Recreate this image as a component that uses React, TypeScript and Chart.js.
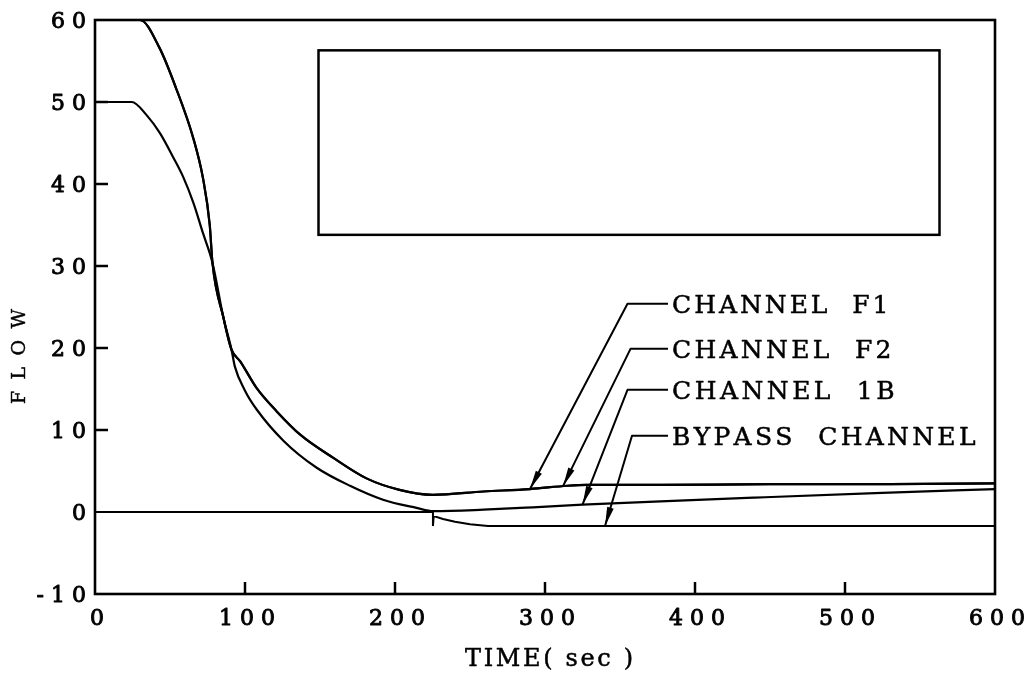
import React, { useEffect, useRef } from "react";
import { Chart, registerables } from "chart.js";

Chart.register(...registerables);

// ---- tick labels / titles ----
const X_TICK_LABELS = ["0", "100", "200", "300", "400", "500", "600"];
const Y_TICK_LABELS = ["-10", "0", "10", "20", "30", "40", "50", "60"];
const X_TITLE = "TIME( sec )";
const Y_TITLE = "FLOW";

// ---- series (time in sec, flow) ----
const F1_TIME = [0, 30, 43, 54, 65.5, 72, 76.5, 78.3, 85.5, 91, 96.7, 107.8, 121, 137, 158.9, 181, 203, 225, 259, 290, 315, 328, 377, 450, 530, 600];
const F1_FLOW = [60, 60, 56.6, 51.7, 45.6, 40.7, 35, 30.4, 23.8, 19.8, 18.4, 15.1, 12.3, 9.4, 6.6, 4.1, 2.7, 2.1, 2.5, 2.8, 3.2, 3.3, 3.3, 3.4, 3.4, 3.5];

const F2_TIME = [0, 30, 43, 54, 65.5, 72, 76.5, 78.3, 85.5, 91, 96.7, 107.8, 121, 137, 158.9, 181, 203, 225, 259, 290, 315, 328, 377, 450, 530, 600];
const F2_FLOW = [60, 60, 56.6, 51.7, 45.6, 40.7, 35, 30.4, 23.8, 19.8, 18.4, 15.1, 12.3, 9.4, 6.6, 4.1, 2.7, 2.1, 2.5, 2.8, 3.2, 3.3, 3.3, 3.4, 3.4, 3.5];

const B1_TIME = [0, 24.5, 34.4, 43.3, 52, 58.7, 65.6, 72, 78.3, 85.5, 91, 93.3, 100, 107.8, 125.6, 147.8, 170, 192, 214.4, 225.6, 259, 292, 325, 377, 440, 520, 600];
const B1_FLOW = [50, 50, 48.4, 46.2, 43.3, 40.9, 37.7, 34, 30.4, 23.8, 19.8, 17.7, 14.8, 12.5, 8.7, 5.4, 3.2, 1.5, 0.5, 0.1, 0.28, 0.57, 0.9, 1.3, 1.75, 2.3, 2.8];

const BYPASS_TIME = [0, 225.3, 225.3, 225.8, 232, 240, 250, 262, 600];
const BYPASS_FLOW = [0, 0, -1.7, -0.5, -0.85, -1.2, -1.5, -1.7, -1.7];

// ---- annotations (anchored in data units) ----
const ANNOT_LABELS = ["CHANNEL  F1", "CHANNEL  F2", "CHANNEL  1B", "BYPASS  CHANNEL"];
const ANNOT_TIP_TIME = [290, 312, 325, 340];
const ANNOT_TIP_FLOW = [2.8, 3.15, 0.9, -1.7];
const ANNOT_ELBOW_TIME = [355, 357, 355, 358];
const ANNOT_ROW_FLOW = [25.4, 19.9, 14.9, 9.3];
const ANNOT_TEXT_END_TIME = [529, 531, 533, 587];
const ANNOT_LEADER_END_TIME = 382;
const ANNOT_TEXT_START_TIME = 384.7;

const BOX_TIME = [149, 563];
const BOX_FLOW = [33.8, 56.3];

const FONT_FAMILY = '"DejaVu Serif", serif';
const CAP = 0.729;

function widths(ctx: CanvasRenderingContext2D, text: string): number[] {
  return Array.from(text).map((ch) => ctx.measureText(ch).width);
}
function trackedWidth(ctx: CanvasRenderingContext2D, text: string, ls: number) {
  const ws = widths(ctx, text);
  return ws.reduce((a, b) => a + b, 0) + ls * (ws.length - 1);
}
function fitTracking(ctx: CanvasRenderingContext2D, text: string, target: number) {
  const ws = widths(ctx, text);
  const sum = ws.reduce((a, b) => a + b, 0);
  return ws.length > 1 ? (target - sum) / (ws.length - 1) : 0;
}
function drawTracked(ctx: CanvasRenderingContext2D, text: string, x: number, y: number, ls: number, weight: number) {
  const chars = Array.from(text);
  const ws = widths(ctx, text);
  let cx = x;
  ctx.lineWidth = weight;
  ctx.lineJoin = "round";
  chars.forEach((ch, i) => {
    ctx.fillText(ch, cx, y);
    if (weight > 0) ctx.strokeText(ch, cx, y);
    cx += ws[i] + ls;
  });
}
function seg(ctx: CanvasRenderingContext2D, x1: number, y1: number, x2: number, y2: number) {
  ctx.beginPath();
  ctx.moveTo(x1, y1);
  ctx.lineTo(x2, y2);
  ctx.stroke();
}

const decorPlugin = {
  id: "decor",
  afterDatasetsDraw(chart: any) {
    const { ctx, chartArea: a, scales } = chart;
    const xs = scales.x;
    const ys = scales.y;
    ctx.save();
    ctx.strokeStyle = "#000";
    ctx.fillStyle = "#000";
    ctx.lineCap = "butt";

    // frame
    ctx.lineWidth = 2.6;
    ctx.strokeRect(a.left, a.top, a.right - a.left, a.bottom - a.top);

    // inward ticks
    ctx.lineWidth = 2.5;
    Y_TICK_LABELS.forEach((lab) => {
      const v = Number(lab);
      if (v <= 0 || v >= 60) return;
      const py = ys.getPixelForValue(v);
      seg(ctx, a.left, py, a.left + 13, py);
    });
    X_TICK_LABELS.forEach((lab) => {
      const v = Number(lab);
      if (v <= 0 || v >= 600) return;
      const px = xs.getPixelForValue(v);
      seg(ctx, px, a.bottom, px, a.bottom - 12);
    });

    // empty box
    ctx.lineWidth = 2.5;
    const bx1 = xs.getPixelForValue(BOX_TIME[0]);
    const bx2 = xs.getPixelForValue(BOX_TIME[1]);
    const by1 = ys.getPixelForValue(BOX_FLOW[1]);
    const by2 = ys.getPixelForValue(BOX_FLOW[0]);
    ctx.strokeRect(bx1, by1, bx2 - bx1, by2 - by1);

    // tick labels
    const tickSize = 22;
    ctx.font = `${tickSize}px ${FONT_FAMILY}`;
    ctx.textAlign = "left";
    ctx.textBaseline = "alphabetic";
    const tls = 7;
    Y_TICK_LABELS.forEach((lab) => {
      const py = ys.getPixelForValue(Number(lab));
      const w = trackedWidth(ctx, lab, tls);
      drawTracked(ctx, lab, 86 - w, py + (CAP * tickSize) / 2, tls, 0.9);
    });
    X_TICK_LABELS.forEach((lab) => {
      const px = xs.getPixelForValue(Number(lab));
      const w = trackedWidth(ctx, lab, tls);
      drawTracked(ctx, lab, px - w / 2 + 2, a.bottom + 31, tls, 0.9);
    });

    // axis titles
    const xtSize = 24;
    ctx.font = `${xtSize}px ${FONT_FAMILY}`;
    const xls = fitTracking(ctx, X_TITLE, 633 - 465);
    drawTracked(ctx, X_TITLE, 465, 666, xls, 0.5);

    const ytSize = 19;
    ctx.font = `${ytSize}px ${FONT_FAMILY}`;
    const yls = fitTracking(ctx, Y_TITLE, 95);
    ctx.save();
    ctx.translate(25, 404);
    ctx.rotate(-Math.PI / 2);
    drawTracked(ctx, Y_TITLE, 0, 0, yls, 0.4);
    ctx.restore();

    // annotations
    const annSize = 25;
    ctx.font = `${annSize}px ${FONT_FAMILY}`;
    ANNOT_LABELS.forEach((lab, i) => {
      const tipX = xs.getPixelForValue(ANNOT_TIP_TIME[i]);
      const tipY = ys.getPixelForValue(ANNOT_TIP_FLOW[i]);
      const elX = xs.getPixelForValue(ANNOT_ELBOW_TIME[i]);
      const rowY = ys.getPixelForValue(ANNOT_ROW_FLOW[i]);
      const endX = xs.getPixelForValue(ANNOT_LEADER_END_TIME);
      const txtX = xs.getPixelForValue(ANNOT_TEXT_START_TIME);
      const txtEnd = xs.getPixelForValue(ANNOT_TEXT_END_TIME[i]);

      ctx.lineWidth = 2;
      ctx.beginPath();
      ctx.moveTo(endX, rowY);
      ctx.lineTo(elX, rowY);
      ctx.lineTo(tipX, tipY);
      ctx.stroke();

      // arrow head
      const dx = tipX - elX;
      const dy = tipY - rowY;
      const len = Math.hypot(dx, dy);
      const ux = dx / len;
      const uy = dy / len;
      const hl = 19;
      const hw = 3.4;
      const bxp = tipX - ux * hl;
      const byp = tipY - uy * hl;
      ctx.beginPath();
      ctx.moveTo(tipX, tipY);
      ctx.lineTo(bxp - uy * hw, byp + ux * hw);
      ctx.lineTo(bxp + uy * hw, byp - ux * hw);
      ctx.closePath();
      ctx.fill();

      const ls = fitTracking(ctx, lab, txtEnd - txtX);
      drawTracked(ctx, lab, txtX, rowY + (CAP * annSize) / 2, ls, 0.5);
    });

    ctx.restore();
  },
};

function series(label: string, xsArr: number[], ysArr: number[], width: number, mode: "monotone" | "linear") {
  return {
    label,
    data: xsArr.map((x, i) => ({ x, y: ysArr[i] })),
    borderColor: "#000",
    backgroundColor: "#000",
    borderWidth: width,
    pointRadius: 0,
    fill: false,
    tension: 0,
    cubicInterpolationMode: mode === "monotone" ? "monotone" : "default",
  };
}

export default function App() {
  const ref = useRef<HTMLCanvasElement | null>(null);

  useEffect(() => {
    const canvas = ref.current;
    if (!canvas) return;
    const chart = new Chart(canvas, {
      type: "line",
      data: {
        datasets: [
          series("CHANNEL F1", F1_TIME, F1_FLOW, 2.2, "monotone"),
          series("CHANNEL F2", F2_TIME, F2_FLOW, 2.2, "monotone"),
          series("CHANNEL 1B", B1_TIME, B1_FLOW, 2.2, "monotone"),
          series("BYPASS CHANNEL", BYPASS_TIME, BYPASS_FLOW, 2, "linear"),
        ] as any,
      },
      options: {
        animation: false,
        responsive: false,
        devicePixelRatio: 1,
        events: [],
        layout: { padding: { left: 0, right: 37, top: 20, bottom: 0 } },
        plugins: {
          legend: { display: false },
          tooltip: { enabled: false },
          title: { display: false },
        },
        scales: {
          x: {
            type: "linear",
            min: 0,
            max: 600,
            ticks: { display: false, stepSize: 100 },
            grid: { display: false },
            border: { display: false },
            afterFit: (s: any) => {
              s.height = 81;
            },
          },
          y: {
            type: "linear",
            min: -10,
            max: 60,
            ticks: { display: false, stepSize: 10 },
            grid: { display: false },
            border: { display: false },
            afterFit: (s: any) => {
              s.width = 95;
            },
          },
        },
      } as any,
      plugins: [decorPlugin],
    });
    return () => chart.destroy();
  }, []);

  return (
    <div style={{ position: "fixed", left: 0, top: 0, width: 1032, height: 675, background: "#fff" }}>
      <canvas ref={ref} width={1032} height={675} style={{ display: "block" }} />
    </div>
  );
}
